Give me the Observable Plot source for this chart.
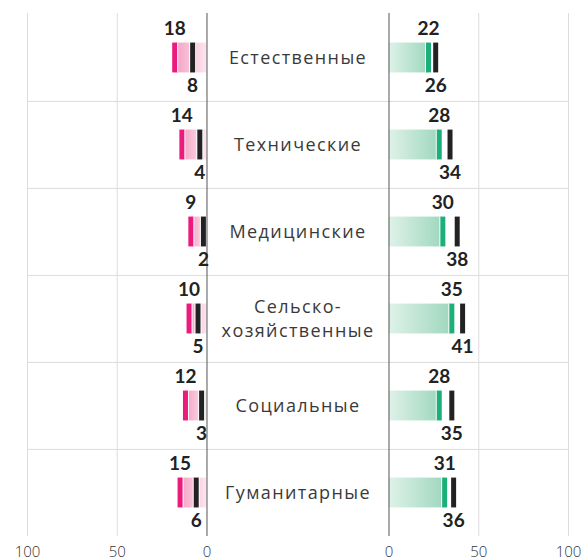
<!DOCTYPE html>
<html>
<head>
<meta charset="utf-8">
<script src="https://cdn.jsdelivr.net/npm/d3@7"></script>
<script src="https://cdn.jsdelivr.net/npm/@observablehq/plot@0.6"></script>
<style>
  html, body { margin: 0; padding: 0; background: #fff; }
  #chart svg { display: block; }
  .catlab text { font-family: "Open Sans", "Noto Sans", sans-serif; font-weight: 400; letter-spacing: 1.4px; }
  .ticklab text { font-family: "Open Sans", "Noto Sans", sans-serif; font-weight: 300; }
</style>
</head>
<body>
<div id="chart"></div>
<script>
// ---- data ----
const categories = ["Естественные", "Технические", "Медицинские", "Сельско-\nхозяйственные", "Социальные", "Гуманитарные"];
const leftTop    = [18, 14, 9, 10, 12, 15];   // pink values (left panel)
const leftBottom = [8, 4, 2, 5, 3, 6];        // black values (left panel)
const rightTop    = [22, 28, 30, 35, 28, 31]; // green values (right panel)
const rightBottom = [26, 34, 38, 41, 35, 36]; // black values (right panel)
const axisTicks = [100, 50, 0];

// ---- layout helpers ----
const GAP = 50.7; // half of the central gap, in value units
const L = v => -(v + GAP);
const R = v => v + GAP;

const rows = categories.map((c, i) => ({
  cat: c, lt: leftTop[i], lb: leftBottom[i], rt: rightTop[i], rb: rightBottom[i]
}));

const W = 581, H = 560, MT = 13, MB = 24;
const band = (H - MT - MB) / categories.length;
const barH = 30;
const inset = (band - barH) / 2;
const font = "Lato, 'Noto Sans', sans-serif";

const tickVals = [...axisTicks.map(L), ...axisTicks.slice().reverse().map(R)];

const chart = Plot.plot({
  width: W,
  height: H,
  marginLeft: 27,
  marginRight: 13,
  marginTop: MT,
  marginBottom: MB,
  style: { fontFamily: font, background: "#fff" },
  x: { domain: [L(100), R(100)], axis: null },
  y: { domain: categories, axis: null, padding: 0 },
  marks: [
    // grid
    Plot.ruleX([L(100), L(50), R(50), R(100)], { stroke: "#dcdcdc", strokeWidth: 1 }),
    Plot.ruleY(categories.slice(1), { y: d => d, dy: -band / 2, stroke: "#dcdcdc", strokeWidth: 1 }),
    // bars
    Plot.barX(rows, { y: "cat", x1: () => L(0), x2: d => L(d.lt), fill: "url(#gradL)", insetTop: inset, insetBottom: inset }),
    Plot.barX(rows, { y: "cat", x1: () => R(0), x2: d => R(d.rt), fill: "url(#gradR)", insetTop: inset, insetBottom: inset }),
    // markers (white halo + colored)
    Plot.tickX(rows, { y: "cat", x: d => L(d.lt), stroke: "#fff", strokeWidth: 7, insetTop: inset, insetBottom: inset }),
    Plot.tickX(rows, { y: "cat", x: d => L(d.lt), stroke: "#ec1a7d", strokeWidth: 5, insetTop: inset, insetBottom: inset }),
    Plot.tickX(rows, { y: "cat", x: d => L(d.lb), stroke: "#fff", strokeWidth: 7, insetTop: inset, insetBottom: inset }),
    Plot.tickX(rows, { y: "cat", x: d => L(d.lb), stroke: "#222", strokeWidth: 5, insetTop: inset, insetBottom: inset }),
    Plot.tickX(rows, { y: "cat", x: d => R(d.rt), stroke: "#fff", strokeWidth: 7, insetTop: inset, insetBottom: inset }),
    Plot.tickX(rows, { y: "cat", x: d => R(d.rt), stroke: "#1bb07a", strokeWidth: 5, insetTop: inset, insetBottom: inset }),
    Plot.tickX(rows, { y: "cat", x: d => R(d.rb), stroke: "#fff", strokeWidth: 7, insetTop: inset, insetBottom: inset }),
    Plot.tickX(rows, { y: "cat", x: d => R(d.rb), stroke: "#222", strokeWidth: 5, insetTop: inset, insetBottom: inset }),
    // zero axis lines
    Plot.ruleX([L(0), R(0)], { stroke: "#555", strokeWidth: 1 }),
    // value labels
    Plot.text(rows, { y: "cat", x: d => L(d.lt), text: d => String(d.lt), dy: -29, fontSize: 19, fontWeight: "bold", fill: "#222" }),
    Plot.text(rows, { y: "cat", x: d => L(d.lb), text: d => String(d.lb), dy: 28, fontSize: 19, fontWeight: "bold", fill: "#222" }),
    Plot.text(rows, { y: "cat", x: d => R(d.rt), text: d => String(d.rt), dy: -29, fontSize: 19, fontWeight: "bold", fill: "#222" }),
    Plot.text(rows, { y: "cat", x: d => R(d.rb), text: d => String(d.rb), dy: 28, fontSize: 19, fontWeight: "bold", fill: "#222" }),
    // category labels
    Plot.text(rows, { y: "cat", x: () => 0, text: "cat", fontSize: 18, fill: "#3a3a3a", lineHeight: 1.35, dy: -2, className: "catlab" }),
    // x axis
    Plot.axisX(tickVals, {
      tickSize: 0, tickPadding: 10, fontSize: 15, fill: "#333", className: "ticklab",
      tickFormat: d => String(Math.round(Math.abs(d) - GAP))
    })
  ]
});

// gradients
const defs = d3.select(chart).insert("defs", ":first-child");
const gl = defs.append("linearGradient").attr("id", "gradL").attr("x1", 0).attr("x2", 1).attr("y1", 0).attr("y2", 0);
gl.append("stop").attr("offset", 0).attr("stop-color", "#f49fc2");
gl.append("stop").attr("offset", 1).attr("stop-color", "#fde6ef");
const gr = defs.append("linearGradient").attr("id", "gradR").attr("x1", 0).attr("x2", 1).attr("y1", 0).attr("y2", 0);
gr.append("stop").attr("offset", 0).attr("stop-color", "#dff2e9");
gr.append("stop").attr("offset", 1).attr("stop-color", "#9fd7be");

document.getElementById("chart").appendChild(chart);
</script>
</body>
</html>
